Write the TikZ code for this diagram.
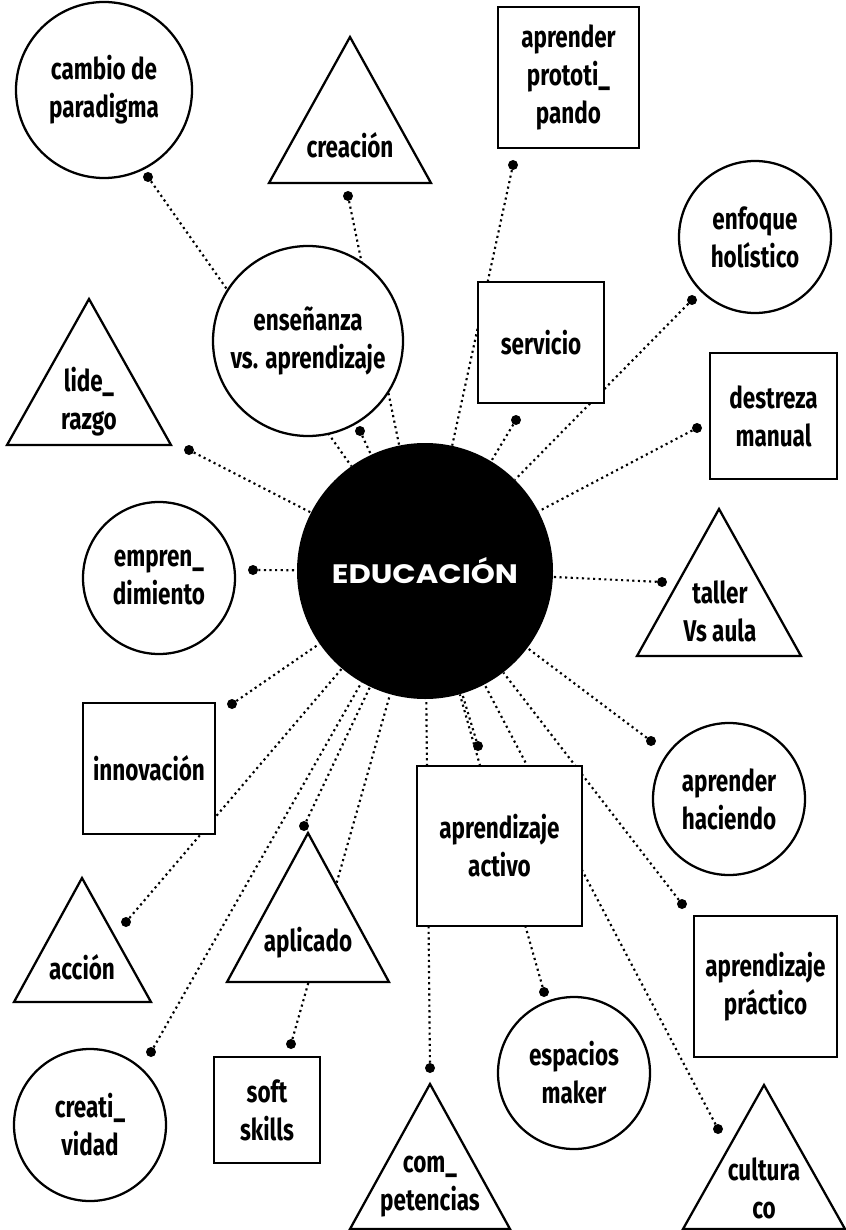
\documentclass[tikz,border=0pt]{standalone}
\usepackage{fontspec}
\newfontfamily\condf{Fira Sans}[FakeStretch=0.75]
\newfontfamily\widef{Poppins}[FakeStretch=1.15]
\usetikzlibrary{backgrounds}
\begin{document}
\begin{tikzpicture}[x=0.75pt,y=-0.75pt,
  lbl/.style={font=\condf\bfseries\fontsize{22.5}{28.5}\selectfont, align=center, inner sep=0},
  shp/.style={draw=black, line width=1.7pt, fill=white, line join=miter},
  circ/.style={shp, circle, inner sep=0, lbl},
  box/.style={shp, rectangle, inner sep=0, lbl},
  dotn/.style={circle, fill=black, inner sep=0, minimum size=7.5pt},
  conn/.style={line width=1.6pt, dash pattern=on 1.6pt off 2.6pt},
]
\useasboundingbox (0,0) rectangle (845,1230);
\begin{pgfonlayer}{background}
\fill[white] (0,0) rectangle (845,1230);
\end{pgfonlayer}

% triangles
\draw[shp] (350,37) -- ++(-81,146) -- ++(162,0) -- cycle;
\node[lbl] (tcrea) at (350,145) {creación};
\draw[shp] (89,299) -- ++(-82,146) -- ++(164,0) -- cycle;
\node[lbl] (tlide) at (89,402) {lide\_\\razgo};
\draw[shp] (719,509) -- ++(-82,147) -- ++(164,0) -- cycle;
\node[lbl] (ttall) at (720,611) {taller\\Vs aula};
\draw[shp] (308,833) -- ++(-81,149) -- ++(162,0) -- cycle;
\node[lbl] (tapli) at (308,943) {aplicado};
\draw[shp] (82,878) -- ++(-68,124) -- ++(137,0) -- cycle;
\node[lbl] (tacci) at (82,967) {acción};
\draw[shp] (430,1084) -- ++(-80,145) -- ++(160,0) -- cycle;
\node[lbl] (tcomp) at (430,1187) {com\_\\petencias};
\draw[shp] (764,1085) -- ++(-81,144) -- ++(162,0) -- cycle;
\node[lbl] (tcult) at (764,1188) {cultura\\co};

% circles
\node[circ, minimum size=132pt] (cambio) at (104,90) {cambio de\\paradigma};
\node[circ, minimum size=114pt] (enfoque) at (755,237) {enfoque\\holístico};
\node[circ, minimum size=142.5pt] (ense) at (308,341) {enseñanza\\vs. aprendizaje};
\node[circ, minimum size=114pt] (empren) at (159,578) {empren\_\\dimiento};
\node[circ, minimum size=114pt] (haciendo) at (729,799) {aprender\\haciendo};
\node[circ, minimum size=114pt] (espacios) at (574,1073) {espacios\\maker};
\node[circ, minimum size=114pt] (creati) at (90,1125) {creati\_\\vidad};

% boxes
\node[box, minimum width=105.75pt, minimum height=105.75pt] (proto) at (568.5,77.5) {aprender\\prototi\_\\pando};
\node[box, minimum width=94.5pt, minimum height=90.75pt] (servicio) at (541,342.5) {servicio};
\node[box, minimum width=95.25pt, minimum height=94.5pt] (destreza) at (773.5,416) {destreza\\manual};
\node[box, minimum width=99pt, minimum height=98.25pt] (innov) at (149,768.5) {innovación};
\node[box, minimum width=123.75pt, minimum height=120pt] (activo) at (499.5,846) {aprendizaje\\activo};
\node[box, minimum width=107.25pt, minimum height=105.75pt] (practico) at (765.5,986.5) {aprendizaje\\práctico};
\node[box, minimum width=79.5pt, minimum height=79.5pt] (soft) at (267,1110) {soft\\skills};

% center
\node[circle, fill=black, minimum size=192pt, inner sep=0, text=white,
      font=\widef\bfseries\fontsize{20}{22}\selectfont] (edu) at (425,571) {EDUCACIÓN};

% dots
\node[dotn] (dcambio) at (148,177) {};
\node[dotn] (dcrea) at (348,196) {};
\node[dotn] (dproto) at (513,165) {};
\node[dotn] (denfoque) at (692,300) {};
\node[dotn] (dserv) at (516,420) {};
\node[dotn] (dense) at (360,431) {};
\node[dotn] (ddestreza) at (697,428) {};
\node[dotn] (dlide) at (189,450) {};
\node[dotn] (dempren) at (253,570) {};
\node[dotn] (dtaller) at (662,582) {};
\node[dotn] (dinnov) at (232,704) {};
\node[dotn] (dhaciendo) at (651,741) {};
\node[dotn] (dactivo) at (478,746) {};
\node[dotn] (daplic) at (304,826) {};
\node[dotn] (dpract) at (682,904) {};
\node[dotn] (dacci) at (126,922) {};
\node[dotn] (despacios) at (544,992) {};
\node[dotn] (dsoft) at (291,1044) {};
\node[dotn] (dcreati) at (151,1052) {};
\node[dotn] (dcomp) at (430,1068) {};
\node[dotn] (dcult) at (718,1129) {};

\begin{pgfonlayer}{background}
\foreach \d in {dcambio,dcrea,dproto,denfoque,dserv,dense,ddestreza,dlide,dempren,dtaller,dinnov,dhaciendo,dactivo,daplic,dpract,dacci,despacios,dsoft,dcreati,dcomp,dcult}
  \draw[conn] (\d) -- (edu);
\end{pgfonlayer}
\end{tikzpicture}
\end{document}
